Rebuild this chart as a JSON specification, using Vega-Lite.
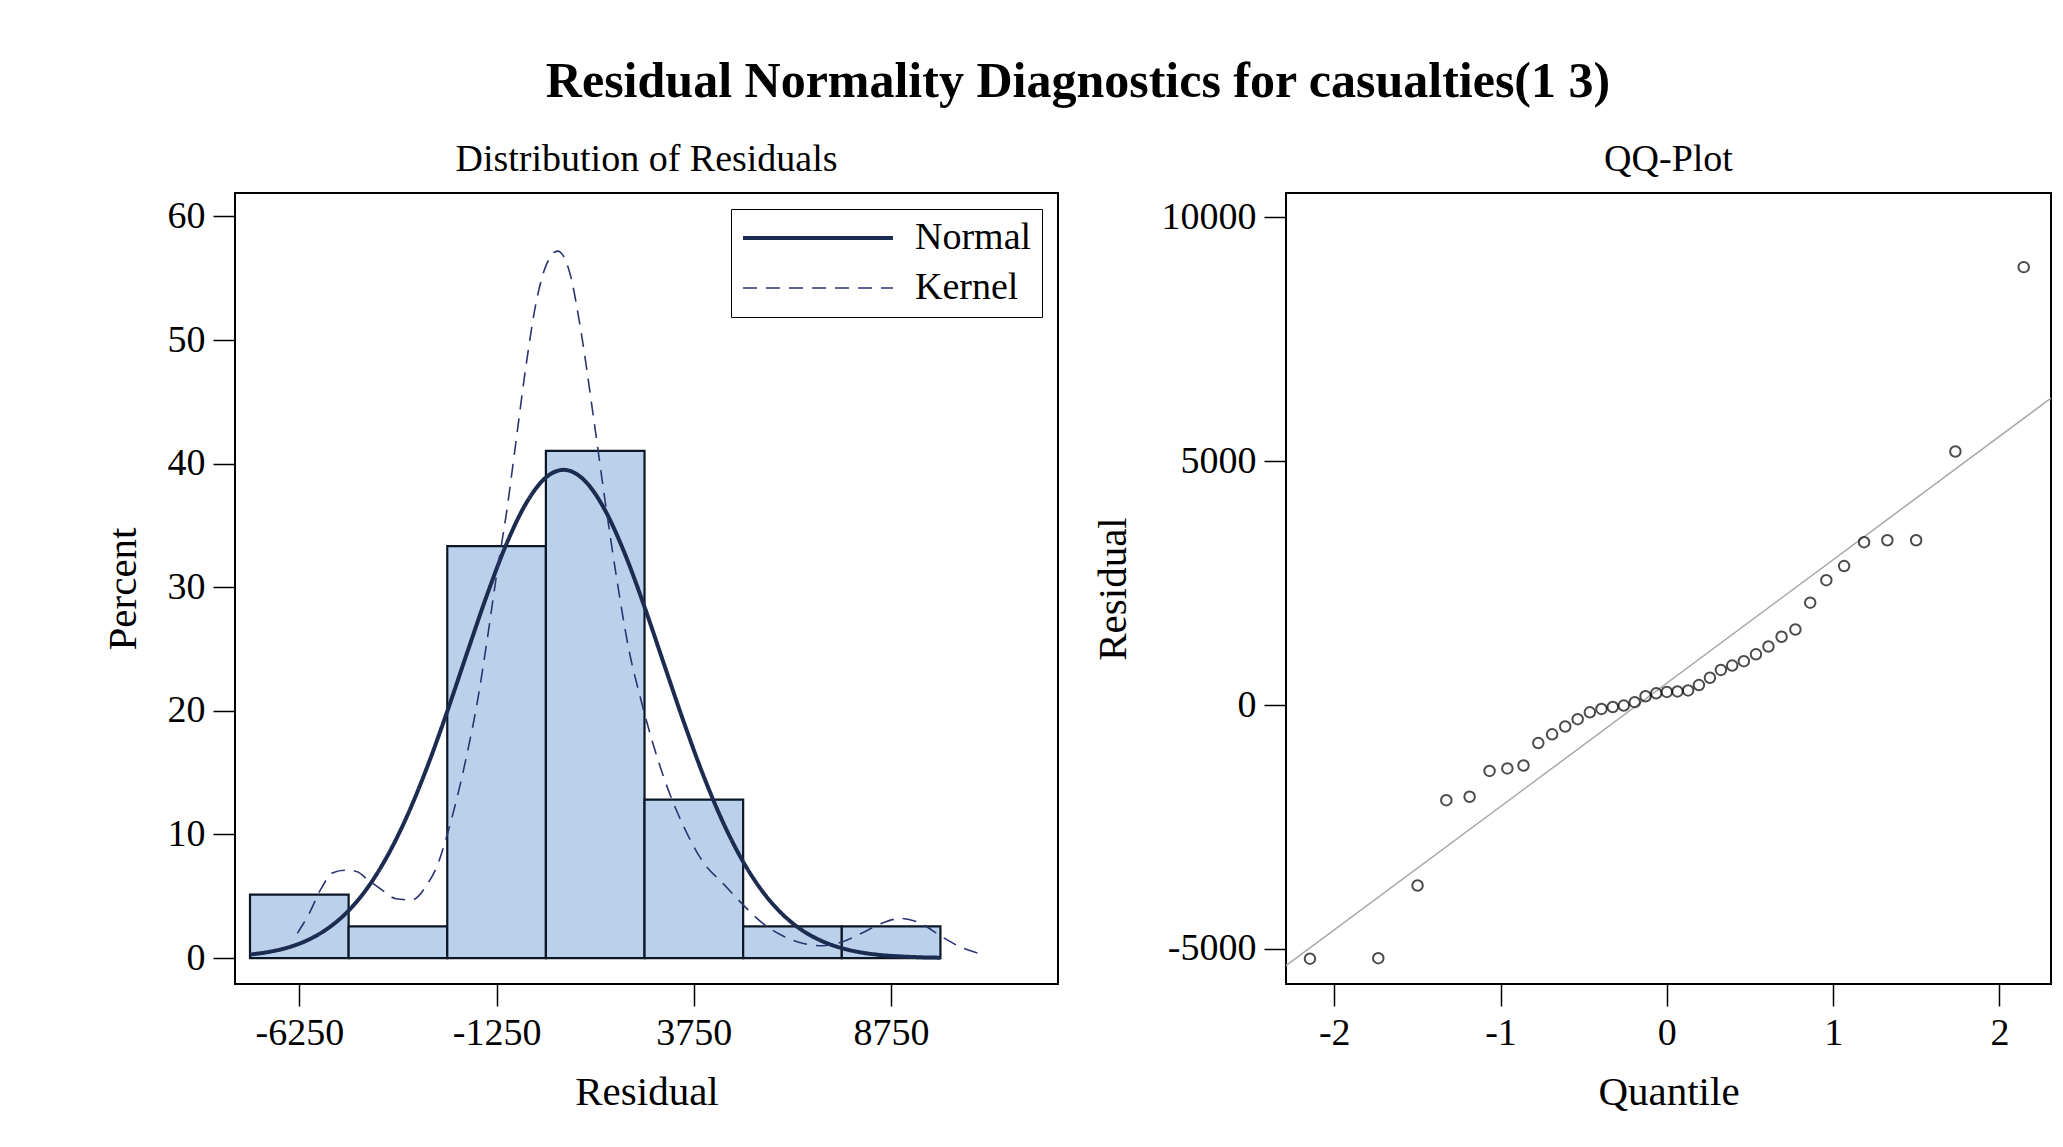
{
  "$schema": "https://vega.github.io/schema/vega-lite/v6.json",
  "background": "white",
  "padding": {"left": 101, "top": 57, "right": 5, "bottom": 20},
  "title": {"text": "Residual Normality Diagnostics for casualties(1 3)", "font": "Liberation Serif", "fontSize": 50, "fontWeight": "bold", "anchor": "middle", "offset": 33, "color": "black"},
  "datasets": {
    "bars": [
      {"bin_start": -7500, "bin_end": -5000, "percent": 5.13},
      {"bin_start": -5000, "bin_end": -2500, "percent": 2.56},
      {"bin_start": -2500, "bin_end": 0, "percent": 33.33},
      {"bin_start": 0, "bin_end": 2500, "percent": 41.03},
      {"bin_start": 2500, "bin_end": 5000, "percent": 12.82},
      {"bin_start": 5000, "bin_end": 7500, "percent": 2.56},
      {"bin_start": 7500, "bin_end": 10000, "percent": 2.56}
    ],
    "curves": [
      {"series": "Normal", "x": -7500, "y": 0.28},
      {"series": "Normal", "x": -7000, "y": 0.51},
      {"series": "Normal", "x": -6500, "y": 0.89},
      {"series": "Normal", "x": -6000, "y": 1.51},
      {"series": "Normal", "x": -5500, "y": 2.46},
      {"series": "Normal", "x": -5000, "y": 3.84},
      {"series": "Normal", "x": -4500, "y": 5.78},
      {"series": "Normal", "x": -4000, "y": 8.36},
      {"series": "Normal", "x": -3500, "y": 11.62},
      {"series": "Normal", "x": -3000, "y": 15.53},
      {"series": "Normal", "x": -2500, "y": 19.96},
      {"series": "Normal", "x": -2000, "y": 24.67},
      {"series": "Normal", "x": -1500, "y": 29.31},
      {"series": "Normal", "x": -1000, "y": 33.5},
      {"series": "Normal", "x": -500, "y": 36.8},
      {"series": "Normal", "x": 0, "y": 38.88},
      {"series": "Normal", "x": 450, "y": 39.5},
      {"series": "Normal", "x": 1000, "y": 38.57},
      {"series": "Normal", "x": 1500, "y": 36.23},
      {"series": "Normal", "x": 2000, "y": 32.72},
      {"series": "Normal", "x": 2500, "y": 28.41},
      {"series": "Normal", "x": 3000, "y": 23.72},
      {"series": "Normal", "x": 3500, "y": 19.05},
      {"series": "Normal", "x": 4000, "y": 14.7},
      {"series": "Normal", "x": 4500, "y": 10.91},
      {"series": "Normal", "x": 5000, "y": 7.79},
      {"series": "Normal", "x": 5500, "y": 5.35},
      {"series": "Normal", "x": 6000, "y": 3.53},
      {"series": "Normal", "x": 6500, "y": 2.24},
      {"series": "Normal", "x": 7000, "y": 1.37},
      {"series": "Normal", "x": 7500, "y": 0.8},
      {"series": "Normal", "x": 8000, "y": 0.45},
      {"series": "Normal", "x": 8500, "y": 0.24},
      {"series": "Normal", "x": 9000, "y": 0.13},
      {"series": "Normal", "x": 9500, "y": 0.06},
      {"series": "Normal", "x": 10000, "y": 0.03},
      {"series": "Kernel", "x": -6300, "y": 2.0},
      {"series": "Kernel", "x": -6000, "y": 3.6},
      {"series": "Kernel", "x": -5700, "y": 5.6},
      {"series": "Kernel", "x": -5400, "y": 6.9},
      {"series": "Kernel", "x": -5100, "y": 7.1},
      {"series": "Kernel", "x": -4800, "y": 7.0},
      {"series": "Kernel", "x": -4500, "y": 6.3},
      {"series": "Kernel", "x": -4150, "y": 5.5},
      {"series": "Kernel", "x": -3800, "y": 4.8},
      {"series": "Kernel", "x": -3400, "y": 4.7},
      {"series": "Kernel", "x": -3000, "y": 6.0},
      {"series": "Kernel", "x": -2750, "y": 7.5},
      {"series": "Kernel", "x": -2500, "y": 10.0},
      {"series": "Kernel", "x": -2250, "y": 13.0},
      {"series": "Kernel", "x": -2000, "y": 16.5},
      {"series": "Kernel", "x": -1750, "y": 20.5},
      {"series": "Kernel", "x": -1500, "y": 25.5},
      {"series": "Kernel", "x": -1250, "y": 31.0},
      {"series": "Kernel", "x": -1000, "y": 36.0},
      {"series": "Kernel", "x": -750, "y": 42.0},
      {"series": "Kernel", "x": -500, "y": 48.0},
      {"series": "Kernel", "x": -250, "y": 53.0},
      {"series": "Kernel", "x": 0, "y": 56.0},
      {"series": "Kernel", "x": 300, "y": 57.2},
      {"series": "Kernel", "x": 600, "y": 55.5},
      {"series": "Kernel", "x": 900, "y": 50.5},
      {"series": "Kernel", "x": 1200, "y": 43.9},
      {"series": "Kernel", "x": 1500, "y": 37.0},
      {"series": "Kernel", "x": 1800, "y": 30.6},
      {"series": "Kernel", "x": 2100, "y": 25.0},
      {"series": "Kernel", "x": 2400, "y": 21.0},
      {"series": "Kernel", "x": 2700, "y": 17.5},
      {"series": "Kernel", "x": 3000, "y": 14.5},
      {"series": "Kernel", "x": 3500, "y": 10.6},
      {"series": "Kernel", "x": 4000, "y": 7.7},
      {"series": "Kernel", "x": 4500, "y": 6.0},
      {"series": "Kernel", "x": 5000, "y": 4.3},
      {"series": "Kernel", "x": 5500, "y": 2.8},
      {"series": "Kernel", "x": 6000, "y": 1.8},
      {"series": "Kernel", "x": 6500, "y": 1.2},
      {"series": "Kernel", "x": 7000, "y": 1.0},
      {"series": "Kernel", "x": 7500, "y": 1.3},
      {"series": "Kernel", "x": 8000, "y": 2.0},
      {"series": "Kernel", "x": 8500, "y": 2.8},
      {"series": "Kernel", "x": 9000, "y": 3.2},
      {"series": "Kernel", "x": 9500, "y": 2.8},
      {"series": "Kernel", "x": 10000, "y": 1.8},
      {"series": "Kernel", "x": 10500, "y": 0.9},
      {"series": "Kernel", "x": 11066, "y": 0.3}
    ],
    "qq": [
      {"q": -2.146, "r": -5200}, {"q": -1.735, "r": -5190}, {"q": -1.499, "r": -3700},
      {"q": -1.326, "r": -1950}, {"q": -1.186, "r": -1880}, {"q": -1.066, "r": -1350},
      {"q": -0.959, "r": -1300}, {"q": -0.862, "r": -1240}, {"q": -0.773, "r": -780},
      {"q": -0.69, "r": -600}, {"q": -0.611, "r": -440}, {"q": -0.536, "r": -290},
      {"q": -0.463, "r": -150}, {"q": -0.393, "r": -80}, {"q": -0.325, "r": -40},
      {"q": -0.259, "r": -10}, {"q": -0.193, "r": 60}, {"q": -0.128, "r": 180},
      {"q": -0.064, "r": 240}, {"q": 0, "r": 270}, {"q": 0.064, "r": 280},
      {"q": 0.128, "r": 300}, {"q": 0.193, "r": 410}, {"q": 0.259, "r": 560},
      {"q": 0.325, "r": 720}, {"q": 0.393, "r": 810}, {"q": 0.463, "r": 900},
      {"q": 0.536, "r": 1040}, {"q": 0.611, "r": 1200}, {"q": 0.69, "r": 1400},
      {"q": 0.773, "r": 1550}, {"q": 0.862, "r": 2100}, {"q": 0.959, "r": 2560},
      {"q": 1.066, "r": 2850}, {"q": 1.186, "r": 3340}, {"q": 1.326, "r": 3380},
      {"q": 1.499, "r": 3380}, {"q": 1.735, "r": 5200}, {"q": 2.146, "r": 8980}
    ],
    "refline": [
      {"q": -2.29, "r": -5344},
      {"q": 2.31, "r": 6294}
    ]
  },
  "spacing": 32,
  "resolve": {
    "scale": {"color": "independent", "strokeDash": "independent", "strokeWidth": "independent"},
    "legend": {"color": "independent", "strokeDash": "independent", "strokeWidth": "independent"}
  },
  "hconcat": [
    {
      "width": 823,
      "height": 791,
      "title": {"text": "Distribution of Residuals", "offset": 14},
      "layer": [
        {
          "data": {"name": "bars"},
          "mark": {"type": "rect", "fill": "#bbd1eb", "stroke": "#0c1726", "strokeWidth": 2.2},
          "encoding": {
            "x": {"field": "bin_start", "type": "quantitative", "scale": {"domain": [-7880, 12980], "nice": false, "zero": false}, "axis": {"values": [-6250, -1250, 3750, 8750], "title": "Residual", "labelExpr": "toString(datum.value)"}},
            "x2": {"field": "bin_end"},
            "y": {"field": "percent", "type": "quantitative", "scale": {"domain": [-2.1, 61.9], "nice": false, "zero": false}, "axis": {"values": [0, 10, 20, 30, 40, 50, 60], "title": "Percent", "titlePadding": 23, "labelExpr": "toString(datum.value)"}},
            "y2": {"datum": 0}
          }
        },
        {
          "data": {"name": "curves"},
          "mark": {"type": "line", "interpolate": "monotone"},
          "encoding": {
            "x": {"field": "x", "type": "quantitative"},
            "y": {"field": "y", "type": "quantitative"},
            "color": {"field": "series", "type": "nominal", "scale": {"domain": ["Normal", "Kernel"], "range": ["#1c2b50", "#2b3470"]}},
            "strokeDash": {"field": "series", "type": "nominal", "scale": {"domain": ["Normal", "Kernel"], "range": [[1, 0], [14, 9]]}},
            "strokeWidth": {"field": "series", "type": "nominal", "scale": {"domain": ["Normal", "Kernel"], "range": [4, 1.6]}}
          }
        }
      ]
    },
    {
      "width": 765,
      "height": 791,
      "title": {"text": "QQ-Plot", "offset": 14},
      "layer": [
        {
          "data": {"name": "refline"},
          "mark": {"type": "line", "color": "#a8a8a8", "strokeWidth": 1.5},
          "encoding": {
            "x": {"field": "q", "type": "quantitative", "scale": {"domain": [-2.29, 2.31], "nice": false, "zero": false}, "axis": {"values": [-2, -1, 0, 1, 2], "title": "Quantile", "labelExpr": "toString(datum.value)"}},
            "y": {"field": "r", "type": "quantitative", "scale": {"domain": [-5720, 10500], "nice": false, "zero": false}, "axis": {"values": [-5000, 0, 5000, 10000], "title": "Residual", "titlePadding": 27, "labelExpr": "toString(datum.value)"}}
          }
        },
        {
          "data": {"name": "qq"},
          "mark": {"type": "point", "shape": "circle", "filled": false, "color": "black", "size": 110, "strokeWidth": 2},
          "encoding": {
            "x": {"field": "q", "type": "quantitative"},
            "y": {"field": "r", "type": "quantitative"}
          }
        }
      ]
    }
  ],
  "config": {
    "font": "Liberation Serif",
    "view": {"stroke": "black", "strokeWidth": 2},
    "axis": {"domain": false, "grid": false, "tickColor": "black", "tickWidth": 1.5, "tickSize": 22, "labelFont": "Liberation Serif", "labelFontSize": 38, "labelColor": "black", "labelPadding": 8, "titleFont": "Liberation Serif", "titleFontSize": 41, "titleFontWeight": "normal", "titleColor": "black"},
    "axisX": {"titlePadding": 20},
    "title": {"font": "Liberation Serif", "fontSize": 38, "fontWeight": "normal", "color": "black"},
    "legend": {"title": null, "orient": "top-right", "offset": 16, "symbolType": "stroke", "symbolSize": 22500, "clipHeight": 38, "labelFont": "Liberation Serif", "labelFontSize": 38, "labelColor": "black", "labelOffset": 20, "strokeColor": "black", "fillColor": "white", "padding": 10, "rowPadding": 12}
  }
}
